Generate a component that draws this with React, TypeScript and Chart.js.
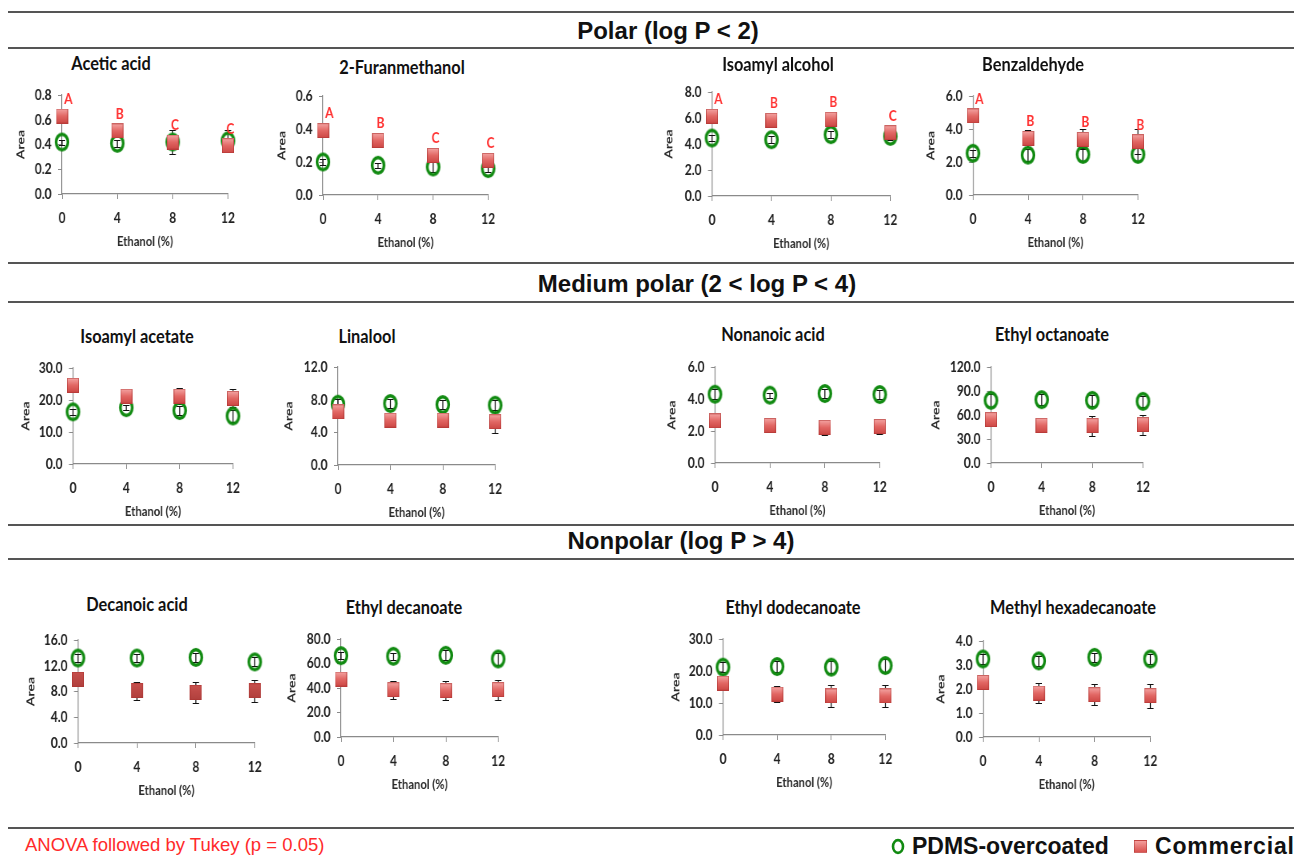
import React, { useEffect, useRef } from 'react';
import { Chart, registerables } from 'chart.js';

Chart.register(...registerables);

// Ethanol content of the model solution (%), shared x values of every panel
const ethanolLevels = [0, 4, 8, 12];

const compoundNames = [
  'Acetic acid', '2-Furanmethanol', 'Isoamyl alcohol', 'Benzaldehyde',
  'Isoamyl acetate', 'Linalool', 'Nonanoic acid', 'Ethyl octanoate',
  'Decanoic acid', 'Ethyl decanoate', 'Ethyl dodecanoate', 'Methyl hexadecanoate',
];

const groupHeaders = ['Polar (log P < 2)', 'Medium polar (2 < log P < 4)', 'Nonpolar (log P > 4)'];

const yAxisMax = [0.8, 0.6, 8, 6, 30, 12, 6, 120, 16, 80, 30, 4];
const yAxisStep = [0.2, 0.2, 2, 2, 10, 4, 2, 30, 4, 20, 10, 1];

// Mean peak area per compound at 0 / 4 / 8 / 12 % ethanol
const pdmsMeans = [
  [0.42, 0.41, 0.42, 0.43],
  [0.20, 0.18, 0.17, 0.16],
  [4.46, 4.33, 4.72, 4.59],
  [2.53, 2.42, 2.46, 2.46],
  [16.3, 17.6, 16.7, 15.0],
  [7.44, 7.53, 7.40, 7.32],
  [4.30, 4.24, 4.34, 4.28],
  [78.3, 79.2, 78.3, 77.1],
  [13.2, 13.2, 13.3, 12.6],
  [66.4, 65.9, 66.7, 63.7],
  [21.2, 21.4, 21.2, 21.7],
  [3.25, 3.17, 3.32, 3.25],
];
const pdmsErrors = [
  [0.02, 0.03, 0.10, 0.09],
  [0.02, 0.015, 0.03, 0.02],
  [0.2, 0.25, 0.25, 0.1],
  [0.2, 0.35, 0.4, 0.4],
  [1.0, 0.8, 1.5, 1.8],
  [0.6, 0.6, 0.6, 0.6],
  [0.3, 0.15, 0.3, 0.3],
  [8, 7, 7, 7],
  [0.6, 0.6, 0.7, 0.7],
  [3, 3, 4, 5],
  [1.6, 1.8, 1.8, 2.0],
  [0.2, 0.2, 0.2, 0.2],
];
const commercialMeans = [
  [0.63, 0.51, 0.42, 0.39],
  [0.39, 0.33, 0.24, 0.21],
  [6.13, 5.82, 5.90, 4.87],
  [4.79, 3.43, 3.37, 3.23],
  [24.6, 21.2, 21.2, 20.5],
  [6.51, 5.49, 5.49, 5.29],
  [2.63, 2.34, 2.23, 2.28],
  [54.2, 47.1, 46.7, 47.9],
  [9.9, 8.15, 7.85, 8.1],
  [47.3, 38.6, 37.8, 38.6],
  [16.2, 12.8, 12.2, 12.2],
  [2.27, 1.83, 1.76, 1.72],
];
const commercialErrors = [
  [0.02, 0.02, 0.03, 0.03],
  [0.01, 0.01, 0.01, 0.01],
  [0.3, 0.5, 0.2, 0.55],
  [0.2, 0.5, 0.6, 0.75],
  [0.8, 0.8, 2.4, 2.8],
  [0.3, 0.3, 0.3, 1.4],
  [0.1, 0.1, 0.45, 0.45],
  [8, 3, 12.5, 12.5],
  [0.5, 1.4, 1.7, 1.7],
  [3, 7.5, 8, 8],
  [1.5, 2.5, 3.4, 3.4],
  [0.2, 0.41, 0.43, 0.5],
];
// Tukey groupings of the commercial fibre (only shown for the polar compounds)
const tukeyLetters = [
  ['A', 'B', 'C', 'C'],
  ['A', 'B', 'C', 'C'],
  ['A', 'B', 'B', 'C'],
  ['A', 'B', 'B', 'B'],
  [], [], [], [], [], [], [], [],
];

const legendLabels = ['PDMS-overcoated', 'Commercial'];
const footnote = 'ANOVA followed by Tukey (p = 0.05)';

// ---------- layout & style ----------
type Frame = { l: number; r: number; t: number; b: number; tx: number; ty: number; gap: number };
// plot area edges on the page, title centre, distance of the y title from the axis
const frames: Frame[] = [
  { l: 62, r: 228, t: 95, b: 194, tx: 111, ty: 62, gap: 40 },
  { l: 323, r: 488, t: 96, b: 195, tx: 402, ty: 66, gap: 40 },
  { l: 712, r: 890, t: 92, b: 196, tx: 778, ty: 63, gap: 42 },
  { l: 973, r: 1138, t: 96, b: 195, tx: 1033, ty: 63, gap: 41 },
  { l: 73, r: 233, t: 368, b: 464, tx: 137, ty: 335, gap: 46 },
  { l: 338, r: 495, t: 367, b: 465, tx: 367, ty: 335, gap: 48 },
  { l: 715, r: 880, t: 367, b: 463, tx: 773, ty: 333, gap: 42 },
  { l: 991, r: 1143, t: 367, b: 463, tx: 1052, ty: 333, gap: 54 },
  { l: 78, r: 255, t: 640, b: 743, tx: 137, ty: 603, gap: 46 },
  { l: 341, r: 498, t: 639, b: 737, tx: 404, ty: 606, gap: 48 },
  { l: 723, r: 885, t: 639, b: 735, tx: 793, ty: 606, gap: 46 },
  { l: 983, r: 1150, t: 641, b: 737, tx: 1073, ty: 606, gap: 41 },
];
const darkSquarePanel = 8;
const headerPos = [
  { cx: 668, cy: 31 },
  { cx: 697, cy: 284 },
  { cx: 681, cy: 541 },
];
const ruleYs = [12, 48, 263, 302, 525, 559, 828];

// the small charts are drawn wide and squeezed horizontally by this factor
const SQUEEZE = 0.8;

const GREEN = '#118a11';
const AXIS = '#8a8a8a';
const PANEL_FONT = 'Lato, "Open Sans", sans-serif';
const SANS = '"Liberation Sans", Arial, sans-serif';

function makeRing(): HTMLCanvasElement {
  const c = document.createElement('canvas');
  c.width = 20;
  c.height = 21;
  const g = c.getContext('2d')!;
  g.strokeStyle = GREEN;
  g.lineWidth = 3.4;
  g.beginPath();
  g.ellipse(10, 10.5, 7.4, 7.8, 0, 0, Math.PI * 2);
  g.stroke();
  return c;
}

function makeBlock(dark: boolean): HTMLCanvasElement {
  const c = document.createElement('canvas');
  c.width = 15;
  c.height = 15;
  const g = c.getContext('2d')!;
  const grad = g.createLinearGradient(0, 0, 0, 15);
  if (dark) {
    grad.addColorStop(0, '#c8514e');
    grad.addColorStop(1, '#b0403d');
  } else {
    grad.addColorStop(0, '#f5a7a5');
    grad.addColorStop(0.5, '#e26764');
    grad.addColorStop(1, '#cc4643');
  }
  g.fillStyle = grad;
  g.fillRect(0, 0, 15, 15);
  g.strokeStyle = 'rgba(170,50,48,0.55)';
  g.lineWidth = 1;
  g.strokeRect(0.5, 0.5, 14, 14);
  return c;
}

// vertical whiskers with caps, drawn under the markers
const errorBarPlugin = {
  id: 'errorBars',
  beforeDatasetsDraw(chart: any) {
    const { ctx } = chart;
    const xs = chart.scales.x;
    const ys = chart.scales.y;
    ctx.save();
    ctx.strokeStyle = '#111';
    chart.data.datasets.forEach((ds: any) => {
      if (!ds.errors) return;
      ds.data.forEach((pt: any, i: number) => {
        const e = ds.errors[i];
        if (!e) return;
        const px = xs.getPixelForValue(pt.x);
        const yTop = Math.round(ys.getPixelForValue(pt.y + e)) + 0.5;
        const yBot = Math.round(ys.getPixelForValue(pt.y - e)) + 0.5;
        ctx.lineWidth = 1.25;
        ctx.beginPath();
        ctx.moveTo(px, yTop);
        ctx.lineTo(px, yBot);
        ctx.stroke();
        ctx.lineWidth = 1;
        ctx.beginPath();
        ctx.moveTo(px - 4, yTop);
        ctx.lineTo(px + 4, yTop);
        ctx.moveTo(px - 4, yBot);
        ctx.lineTo(px + 4, yBot);
        ctx.stroke();
      });
    });
    ctx.restore();
  },
};

// significance letters above the commercial markers
const letterPlugin = {
  id: 'tukeyLetters',
  afterDatasetsDraw(chart: any) {
    const { ctx } = chart;
    const xs = chart.scales.x;
    const ys = chart.scales.y;
    ctx.save();
    ctx.fillStyle = '#ff3030';
    ctx.font = `bold 15px ${PANEL_FONT}`;
    ctx.textAlign = 'center';
    ctx.textBaseline = 'middle';
    chart.data.datasets.forEach((ds: any) => {
      if (!ds.letters) return;
      ds.data.forEach((pt: any, i: number) => {
        const L = ds.letters[i];
        if (!L) return;
        const dx = pt.x === 0 ? 8 : 3;
        ctx.fillText(L, xs.getPixelForValue(pt.x) + dx, ys.getPixelForValue(pt.y) - 17);
      });
    });
    ctx.restore();
  },
};

function Panel({ idx }: { idx: number }) {
  const ref = useRef<HTMLCanvasElement>(null);
  const f = frames[idx];
  // page-space margins around the plot area
  const padL = f.gap + 8;
  const padR = 22;
  const padT = 18;
  const xH = 56;
  const pageW = f.r - f.l + padL + padR;
  const w = Math.round(pageW / SQUEEZE);
  const h = f.b - f.t + padT + xH;

  useEffect(() => {
    const ring = makeRing();
    const block = makeBlock(idx === darkSquarePanel);
    const tickFont = { family: PANEL_FONT, size: 15, weight: 'bold' as const };
    const titleFont = { family: PANEL_FONT, size: 14, weight: 'bold' as const };
    const grid = { drawOnChartArea: false, drawTicks: true, tickLength: 5, color: AXIS };
    const border = { color: AXIS, width: 1.2 };
    const chart = new Chart(ref.current!, {
      type: 'scatter',
      data: {
        datasets: [
          {
            label: legendLabels[1],
            data: ethanolLevels.map((x, i) => ({ x, y: commercialMeans[idx][i] })),
            pointStyle: block,
            pointRadius: 8,
            showLine: false,
            clip: false,
            errors: commercialErrors[idx],
            letters: tukeyLetters[idx],
          } as any,
          {
            label: legendLabels[0],
            data: ethanolLevels.map((x, i) => ({ x, y: pdmsMeans[idx][i] })),
            pointStyle: ring,
            pointRadius: 8,
            showLine: false,
            clip: false,
            errors: pdmsErrors[idx],
          } as any,
        ],
      },
      options: {
        animation: false,
        responsive: false,
        devicePixelRatio: 1,
        events: [],
        layout: { padding: { left: 0, right: padR / SQUEEZE, top: padT, bottom: 0 } },
        plugins: { legend: { display: false }, tooltip: { enabled: false } },
        scales: {
          x: {
            type: 'linear',
            min: 0,
            max: 12,
            afterFit: (s: any) => { s.height = xH; },
            ticks: { stepSize: 4, padding: 10, color: '#222', font: tickFont, maxRotation: 0 },
            grid,
            border,
            title: { display: true, text: 'Ethanol (%)', color: '#2a2a2a', font: titleFont, padding: 0 },
          },
          y: {
            type: 'linear',
            min: 0,
            max: yAxisMax[idx],
            afterFit: (s: any) => { s.width = padL / SQUEEZE; },
            ticks: {
              stepSize: yAxisStep[idx],
              padding: 8,
              color: '#222',
              font: tickFont,
              callback: (v: any) => Number(v).toFixed(1),
            },
            grid,
            border,
            title: { display: true, text: 'Area', color: '#2a2a2a', font: titleFont, padding: 0 },
          },
        },
      } as any,
      plugins: [errorBarPlugin, letterPlugin],
    });
    return () => chart.destroy();
  }, [idx]);

  return (
    <>
      <canvas
        ref={ref}
        width={w}
        height={h}
        style={{
          position: 'absolute',
          left: f.l - padL,
          top: f.t - padT,
          transformOrigin: 'left top',
          transform: `scaleX(${SQUEEZE})`,
        }}
      />
      <div
        style={{
          position: 'absolute',
          left: f.tx,
          top: f.ty,
          transform: 'translate(-50%, -50%) scaleX(0.86)',
          font: `bold 19px ${PANEL_FONT}`,
          lineHeight: 1,
          whiteSpace: 'nowrap',
          color: '#111',
        }}
      >
        {compoundNames[idx]}
      </div>
    </>
  );
}

export default function App() {
  return (
    <div
      style={{
        position: 'absolute',
        left: 0,
        top: 0,
        width: 1299,
        height: 859,
        background: '#fff',
        overflow: 'hidden',
      }}
    >
      {ruleYs.map((y) => (
        <div
          key={y}
          style={{ position: 'absolute', left: 8, width: 1286, top: y - 1, height: 2, background: '#555' }}
        />
      ))}
      {groupHeaders.map((t, i) => (
        <div
          key={t}
          style={{
            position: 'absolute',
            left: headerPos[i].cx,
            top: headerPos[i].cy,
            transform: 'translate(-50%, -50%)',
            font: `bold 24px ${SANS}`,
            lineHeight: 1,
            whiteSpace: 'nowrap',
            color: '#111',
          }}
        >
          {t}
        </div>
      ))}
      {compoundNames.map((_, i) => (
        <Panel key={i} idx={i} />
      ))}
      <div
        style={{
          position: 'absolute',
          left: 25,
          top: 845 - 9,
          font: `18.5px ${SANS}`,
          lineHeight: '18px',
          color: '#ff2a2a',
          whiteSpace: 'nowrap',
        }}
      >
        {footnote}
      </div>
      <svg style={{ position: 'absolute', left: 891, top: 838 }} width={14} height={17}>
        <ellipse cx={7} cy={8.5} rx={5} ry={6.4} fill="none" stroke={GREEN} strokeWidth={2.6} />
      </svg>
      <div
        style={{
          position: 'absolute',
          left: 912,
          top: 846 - 12,
          font: `bold 23px ${SANS}`,
          lineHeight: '24px',
          whiteSpace: 'nowrap',
          color: '#111',
        }}
      >
        {legendLabels[0]}
      </div>
      <div
        style={{
          position: 'absolute',
          left: 1134,
          top: 840,
          width: 13,
          height: 13,
          background: 'linear-gradient(#f39e9c, #d9514e)',
          boxSizing: 'border-box',
          border: '1px solid rgba(170,50,48,0.5)',
        }}
      />
      <div
        style={{
          position: 'absolute',
          left: 1155,
          top: 846 - 12,
          font: `bold 23px ${SANS}`,
          lineHeight: '24px',
          letterSpacing: '0.8px',
          whiteSpace: 'nowrap',
          color: '#111',
        }}
      >
        {legendLabels[1]}
      </div>
    </div>
  );
}
